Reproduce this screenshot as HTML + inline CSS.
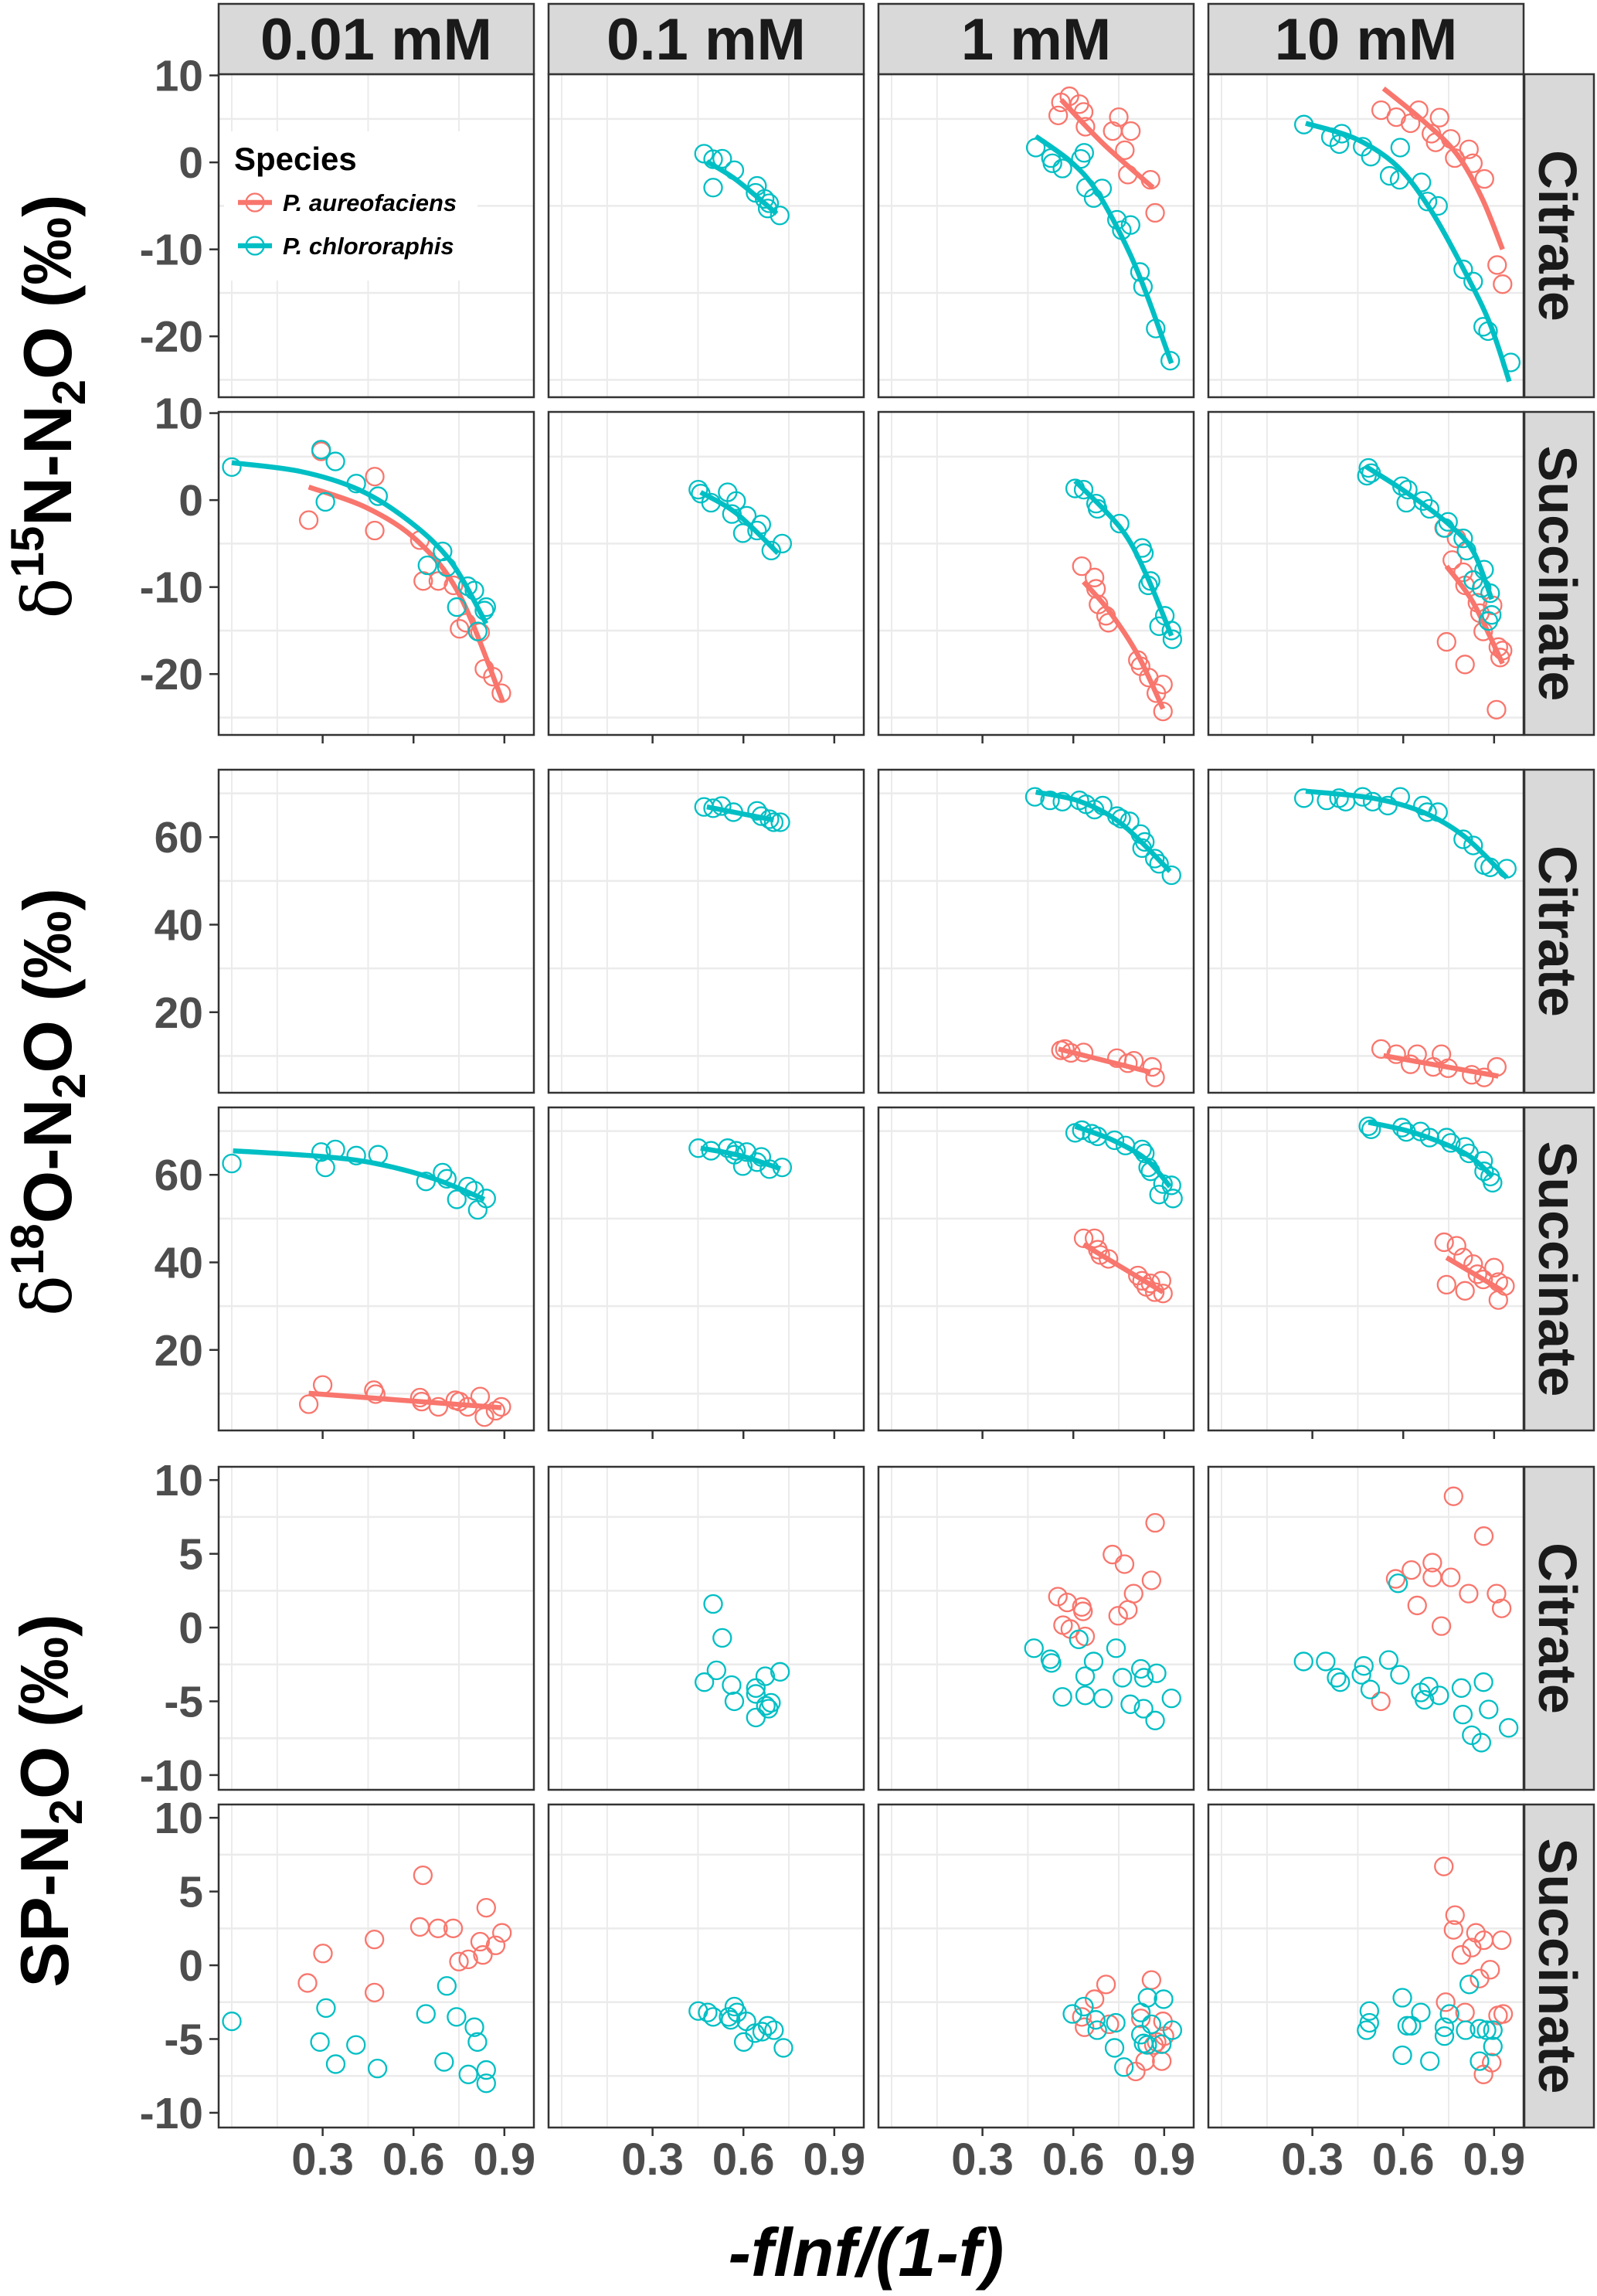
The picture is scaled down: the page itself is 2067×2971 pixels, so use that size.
<!DOCTYPE html>
<html><head><meta charset="utf-8"><title>Isotope facets</title>
<style>html,body{margin:0;padding:0;background:#fff}svg{display:block}text{font-family:"Liberation Sans",Arial,sans-serif}</style>
</head><body>
<svg id="chart" xmlns="http://www.w3.org/2000/svg" width="2067" height="2971" viewBox="0 0 2067 2971"></svg>
<script>
// ---------- data ----------
const concentrations = ['0.01 mM','0.1 mM','1 mM','10 mM'];
const substrates = ['Citrate','Succinate','Citrate','Succinate','Citrate','Succinate'];
const xTicks = [0.3,0.6,0.9];
const xTickLabels = ['0.3','0.6','0.9'];
const nTicks = [10,0,-10,-20];
const oTicks = [60,40,20];
const spTicks = [10,5,0,-5,-10];
const nMinor = [5,-5,-15,-25];
const oMinor = [70,50,30,10];
const spMinor = [7.5,2.5,-2.5,-7.5];
const xMinor = [0,0.15,0.45,0.75];

// d15N citrate
const n_cit_c1_chl = [[0.47,1.0],[0.50,0.36],[0.53,0.42],[0.57,-0.9],[0.50,-2.9],[0.645,-2.7],[0.64,-3.5],[0.67,-4.2],[0.685,-4.7],[0.68,-5.3],[0.72,-6.1]];
const n_cit_c1_chl_fit = [[0.479,0.1],[0.576,-2.0],[0.71,-5.9]];
const n_cit_c2_aur = [[0.587,7.6],[0.559,6.9],[0.62,6.7],[0.55,5.4],[0.634,5.8],[0.75,5.2],[0.64,4.1],[0.73,3.6],[0.79,3.6],[0.77,1.4],[0.78,-1.4],[0.855,-2.0],[0.87,-5.8]];
const n_cit_c2_aur_fit = [[0.56,7.2],[0.70,2.1],[0.863,-2.9]];
const n_cit_c2_chl = [[0.476,1.7],[0.526,0.5],[0.531,-0.1],[0.564,-0.7],[0.636,1.1],[0.625,0.4],[0.642,-2.9],[0.695,-3.0],[0.667,-4.1],[0.744,-6.6],[0.789,-7.2],[0.76,-7.8],[0.82,-12.6],[0.83,-14.3],[0.872,-19.1],[0.92,-22.8]];
const n_cit_c2_chl_fit = [[0.476,3.0],[0.592,0.07],[0.675,-3.2],[0.772,-9.4],[0.84,-15.0],[0.924,-23.1]];
const n_cit_c3_aur = [[0.527,6.0],[0.577,5.2],[0.651,6.0],[0.72,5.15],[0.624,4.5],[0.693,3.3],[0.757,2.7],[0.707,2.3],[0.817,1.5],[0.77,0.5],[0.83,-0.1],[0.868,-1.9],[0.91,-11.8],[0.928,-14.0]];
const n_cit_c3_aur_fit = [[0.535,8.5],[0.665,4.8],[0.776,1.0],[0.86,-4.1],[0.928,-10.0]];
const n_cit_c3_chl = [[0.272,4.35],[0.361,2.9],[0.397,3.3],[0.389,2.1],[0.466,1.8],[0.493,0.66],[0.59,1.7],[0.555,-1.55],[0.588,-2.0],[0.66,-2.3],[0.68,-4.5],[0.715,-5.0],[0.798,-12.3],[0.831,-13.7],[0.864,-18.9],[0.88,-19.4],[0.955,-23.0]];
const n_cit_c3_chl_fit = [[0.278,4.5],[0.444,2.7],[0.582,-0.5],[0.693,-5.6],[0.804,-12.6],[0.887,-18.6],[0.95,-25.2]];
// d15N succinate
const n_suc_c0_chl = [[0.0,3.8],[0.295,5.8],[0.342,4.45],[0.411,1.9],[0.309,-0.2],[0.483,0.45],[0.696,-5.9],[0.646,-7.5],[0.71,-7.7],[0.779,-9.9],[0.801,-10.4],[0.743,-12.3],[0.84,-12.3],[0.834,-12.7],[0.812,-15.1]];
const n_suc_c0_chl_fit = [[0.0,4.3],[0.226,3.3],[0.419,1.2],[0.585,-2.4],[0.724,-7.1],[0.84,-14.2]];
const n_suc_c0_aur = [[0.295,5.6],[0.254,-2.3],[0.472,2.7],[0.472,-3.5],[0.621,-4.6],[0.632,-9.3],[0.682,-9.3],[0.732,-9.8],[0.774,-14.1],[0.752,-14.8],[0.82,-15.2],[0.834,-19.4],[0.862,-20.3],[0.89,-22.2]];
const n_suc_c0_aur_fit = [[0.254,1.5],[0.447,-0.9],[0.613,-4.7],[0.752,-10.9],[0.895,-23.2]];
const n_suc_c1_chl = [[0.451,1.2],[0.459,0.75],[0.493,-0.3],[0.548,0.9],[0.576,-0.1],[0.562,-1.6],[0.611,-1.8],[0.659,-2.8],[0.598,-3.8],[0.645,-3.5],[0.692,-5.8],[0.728,-5.0]];
const n_suc_c1_chl_fit = [[0.459,0.9],[0.576,-1.5],[0.714,-6.1]];
const n_suc_c2_chl = [[0.606,1.34],[0.634,1.2],[0.675,-0.4],[0.68,-1.0],[0.753,-2.7],[0.827,-5.5],[0.833,-6.1],[0.855,-9.3],[0.847,-9.8],[0.883,-14.5],[0.902,-13.3],[0.924,-15.0],[0.927,-16.0]];
const n_suc_c2_chl_fit = [[0.606,2.2],[0.758,-3.3],[0.841,-8.6],[0.924,-15.6]];
const n_suc_c2_aur = [[0.628,-7.6],[0.67,-8.9],[0.675,-10.2],[0.683,-12.0],[0.708,-13.3],[0.716,-14.1],[0.813,-18.4],[0.822,-19.1],[0.849,-20.4],[0.896,-21.2],[0.874,-22.2],[0.896,-24.3]];
const n_suc_c2_aur_fit = [[0.634,-9.4],[0.717,-12.7],[0.813,-17.8],[0.896,-24.0]];
const n_suc_c3_chl = [[0.485,3.7],[0.48,2.8],[0.494,3.1],[0.596,1.6],[0.615,1.2],[0.61,-0.3],[0.665,-0.1],[0.687,-1.0],[0.748,-2.5],[0.737,-3.2],[0.798,-4.4],[0.809,-5.8],[0.867,-8.0],[0.831,-9.2],[0.859,-10.1],[0.887,-10.7],[0.892,-13.2],[0.881,-13.9]];
const n_suc_c3_chl_fit = [[0.477,3.85],[0.61,0.9],[0.748,-2.7],[0.831,-5.9],[0.892,-11.4]];
const n_suc_c3_aur = [[0.735,-3.2],[0.776,-4.4],[0.762,-6.9],[0.798,-8.3],[0.831,-9.2],[0.804,-9.8],[0.845,-11.8],[0.895,-12.1],[0.853,-13.0],[0.864,-15.1],[0.743,-16.3],[0.914,-16.9],[0.928,-17.3],[0.92,-18.1],[0.804,-18.9],[0.908,-24.1]];
const n_suc_c3_aur_fit = [[0.743,-7.6],[0.831,-11.8],[0.928,-18.8]];
// d18O citrate
const o_cit_c1_chl = [[0.47,66.9],[0.50,66.6],[0.528,67.1],[0.567,65.7],[0.645,66.0],[0.659,64.8],[0.686,64.1],[0.70,63.4],[0.722,63.4]];
const o_cit_c1_chl_fit = [[0.479,66.9],[0.70,63.9]];
const o_cit_c2_chl = [[0.473,69.2],[0.523,68.4],[0.564,68.1],[0.62,68.4],[0.642,67.5],[0.67,66.3],[0.697,67.2],[0.744,64.8],[0.786,63.6],[0.758,64.2],[0.822,60.7],[0.836,58.9],[0.827,57.5],[0.869,55.1],[0.883,53.9],[0.924,51.3]];
const o_cit_c2_chl_fit = [[0.476,70.3],[0.62,68.2],[0.758,63.1],[0.919,52.2]];
const o_cit_c2_aur = [[0.559,11.3],[0.572,11.6],[0.592,10.7],[0.634,10.8],[0.744,9.5],[0.78,8.35],[0.8,8.9],[0.86,7.5],[0.87,5.1]];
const o_cit_c2_aur_fit = [[0.551,11.6],[0.855,6.3]];
const o_cit_c3_chl = [[0.272,68.9],[0.347,68.4],[0.388,68.9],[0.41,68.1],[0.466,69.2],[0.499,68.1],[0.549,67.2],[0.59,69.2],[0.665,67.2],[0.679,65.7],[0.715,65.7],[0.798,59.5],[0.831,58.1],[0.867,53.6],[0.887,53.1],[0.942,52.8]];
const o_cit_c3_chl_fit = [[0.278,70.5],[0.499,68.9],[0.665,65.7],[0.803,60.1],[0.942,50.7]];
const o_cit_c3_aur = [[0.527,11.6],[0.577,10.4],[0.646,10.4],[0.726,10.4],[0.624,8.1],[0.699,7.5],[0.748,7.2],[0.826,5.7],[0.867,5.1],[0.909,7.5]];
const o_cit_c3_aur_fit = [[0.535,10.1],[0.914,5.4]];
// d18O succinate
const o_suc_c0_chl = [[0.0,62.6],[0.295,65.2],[0.342,65.8],[0.309,61.7],[0.411,64.4],[0.483,64.6],[0.641,58.5],[0.696,60.5],[0.71,59.1],[0.779,57.3],[0.801,56.4],[0.743,54.4],[0.84,54.6],[0.812,52.0]];
const o_suc_c0_chl_fit = [[0.004,65.5],[0.295,64.2],[0.475,62.6],[0.668,59.1],[0.834,54.4]];
const o_suc_c0_aur = [[0.3,12.0],[0.254,7.6],[0.469,10.8],[0.475,9.9],[0.621,9.1],[0.627,8.2],[0.682,7.0],[0.738,8.5],[0.752,8.2],[0.779,7.0],[0.82,9.35],[0.834,4.65],[0.871,6.1],[0.89,7.0]];
const o_suc_c0_aur_fit = [[0.254,10.1],[0.89,6.8]];
const o_suc_c1_chl = [[0.451,66.1],[0.493,65.5],[0.548,66.1],[0.576,65.5],[0.57,64.6],[0.611,65.2],[0.659,64.1],[0.598,62.0],[0.645,62.9],[0.686,61.3],[0.728,61.7]];
const o_suc_c1_chl_fit = [[0.459,66.1],[0.589,64.4],[0.722,61.4]];
const o_suc_c2_chl = [[0.606,69.6],[0.628,70.2],[0.661,69.4],[0.68,68.8],[0.736,67.9],[0.772,66.7],[0.827,65.8],[0.836,64.9],[0.847,61.7],[0.855,60.8],[0.896,57.9],[0.924,57.6],[0.883,55.5],[0.929,54.6]];
const o_suc_c2_chl_fit = [[0.606,71.1],[0.731,67.9],[0.841,63.5],[0.919,57.3]];
const o_suc_c2_aur = [[0.634,45.5],[0.67,45.5],[0.681,42.9],[0.689,41.7],[0.716,40.8],[0.813,37.0],[0.827,35.8],[0.841,34.4],[0.891,35.8],[0.869,33.2],[0.896,32.9],[0.855,35.2]];
const o_suc_c2_aur_fit = [[0.634,44.1],[0.896,33.2]];
const o_suc_c3_chl = [[0.485,71.1],[0.494,70.4],[0.596,70.8],[0.61,69.8],[0.657,69.9],[0.687,68.5],[0.743,68.5],[0.757,67.3],[0.804,66.4],[0.817,64.9],[0.864,63.2],[0.867,60.8],[0.887,59.6],[0.895,58.2]];
const o_suc_c3_chl_fit = [[0.485,72.0],[0.637,69.6],[0.804,64.9],[0.895,59.6]];
const o_suc_c3_aur = [[0.735,44.6],[0.776,43.8],[0.798,41.1],[0.831,39.6],[0.9,38.8],[0.845,37.3],[0.864,36.1],[0.743,34.9],[0.804,33.5],[0.914,35.5],[0.936,34.6],[0.914,31.4]];
const o_suc_c3_aur_fit = [[0.743,41.1],[0.928,33.5]];
// SP citrate
const sp_cit_c1_chl = [[0.5,1.6],[0.53,-0.7],[0.511,-2.9],[0.471,-3.7],[0.561,-3.9],[0.641,-4.1],[0.641,-4.5],[0.672,-3.3],[0.721,-3.0],[0.57,-5.0],[0.691,-5.1],[0.674,-5.3],[0.683,-5.5],[0.641,-6.1]];
const sp_cit_c2_aur = [[0.87,7.1],[0.729,4.95],[0.769,4.3],[0.858,3.2],[0.799,2.3],[0.549,2.1],[0.58,1.7],[0.628,1.4],[0.632,1.1],[0.78,1.2],[0.748,0.8],[0.566,0.16],[0.59,-0.1],[0.639,-0.6]];
const sp_cit_c2_chl = [[0.47,-1.4],[0.524,-2.15],[0.528,-2.4],[0.618,-0.8],[0.741,-1.4],[0.667,-2.3],[0.639,-3.3],[0.762,-3.4],[0.823,-2.8],[0.833,-3.4],[0.875,-3.1],[0.564,-4.7],[0.639,-4.6],[0.698,-4.8],[0.788,-5.2],[0.832,-5.5],[0.87,-6.3],[0.924,-4.8]];
const sp_cit_c3_aur = [[0.766,8.9],[0.866,6.2],[0.627,3.9],[0.696,4.4],[0.696,3.4],[0.575,3.3],[0.757,3.4],[0.816,2.3],[0.908,2.3],[0.646,1.5],[0.925,1.3],[0.726,0.1],[0.526,-5.0]];
const sp_cit_c3_chl = [[0.583,3.0],[0.271,-2.3],[0.344,-2.3],[0.38,-3.4],[0.392,-3.7],[0.462,-3.2],[0.47,-2.6],[0.491,-4.2],[0.552,-2.2],[0.589,-3.2],[0.658,-4.4],[0.67,-4.9],[0.684,-4.0],[0.719,-4.6],[0.792,-4.1],[0.865,-3.7],[0.797,-5.9],[0.882,-5.55],[0.826,-7.3],[0.858,-7.8],[0.948,-6.8]];
// SP succinate
const sp_suc_c0_aur = [[0.631,6.1],[0.84,3.9],[0.621,2.6],[0.681,2.5],[0.731,2.5],[0.471,1.75],[0.301,0.8],[0.82,1.6],[0.892,2.2],[0.871,1.35],[0.829,0.7],[0.781,0.4],[0.75,0.25],[0.25,-1.2],[0.471,-1.85]];
const sp_suc_c0_chl = [[0.0,-3.8],[0.311,-2.9],[0.71,-1.4],[0.641,-3.3],[0.742,-3.5],[0.801,-4.2],[0.811,-5.2],[0.291,-5.2],[0.41,-5.4],[0.343,-6.7],[0.481,-7.0],[0.701,-6.55],[0.781,-7.4],[0.84,-7.1],[0.84,-8.0]];
const sp_suc_c1_chl = [[0.451,-3.1],[0.482,-3.2],[0.5,-3.5],[0.551,-3.5],[0.558,-3.7],[0.57,-2.8],[0.579,-3.2],[0.61,-3.8],[0.638,-4.6],[0.662,-4.5],[0.68,-4.1],[0.701,-4.4],[0.601,-5.2],[0.732,-5.6]];
const sp_suc_c2_aur = [[0.858,-1.0],[0.708,-1.3],[0.67,-2.3],[0.628,-3.5],[0.719,-4.0],[0.823,-3.6],[0.896,-3.8],[0.637,-4.2],[0.875,-5.2],[0.866,-5.4],[0.901,-4.8],[0.837,-6.5],[0.892,-6.5],[0.806,-7.2]];
const sp_suc_c2_chl = [[0.597,-3.3],[0.635,-2.8],[0.674,-3.7],[0.679,-4.4],[0.823,-3.2],[0.845,-2.2],[0.898,-2.3],[0.858,-4.0],[0.823,-4.7],[0.832,-5.3],[0.844,-5.4],[0.892,-5.35],[0.927,-4.4],[0.736,-5.6],[0.767,-6.9],[0.74,-3.9]];
const sp_suc_c3_aur = [[0.734,6.7],[0.771,3.4],[0.766,2.4],[0.84,2.2],[0.826,1.2],[0.792,0.7],[0.866,1.7],[0.925,1.7],[0.887,-0.3],[0.852,-0.9],[0.74,-2.5],[0.804,-3.2],[0.913,-3.4],[0.93,-3.3],[0.892,-6.6],[0.865,-7.4]];
const sp_suc_c3_chl = [[0.488,-3.1],[0.488,-3.9],[0.479,-4.4],[0.597,-2.2],[0.613,-4.1],[0.627,-4.1],[0.658,-3.2],[0.736,-4.2],[0.736,-4.8],[0.753,-3.3],[0.818,-1.3],[0.806,-4.4],[0.852,-4.3],[0.875,-4.4],[0.896,-4.4],[0.896,-5.5],[0.852,-6.5],[0.597,-6.1],[0.688,-6.5]];

// series registry: [row, col, species, points, fit]
const series = [
 [0,1,'chl',n_cit_c1_chl,n_cit_c1_chl_fit],
 [0,2,'aur',n_cit_c2_aur,n_cit_c2_aur_fit],[0,2,'chl',n_cit_c2_chl,n_cit_c2_chl_fit],
 [0,3,'aur',n_cit_c3_aur,n_cit_c3_aur_fit],[0,3,'chl',n_cit_c3_chl,n_cit_c3_chl_fit],
 [1,0,'aur',n_suc_c0_aur,n_suc_c0_aur_fit],[1,0,'chl',n_suc_c0_chl,n_suc_c0_chl_fit],
 [1,1,'chl',n_suc_c1_chl,n_suc_c1_chl_fit],
 [1,2,'aur',n_suc_c2_aur,n_suc_c2_aur_fit],[1,2,'chl',n_suc_c2_chl,n_suc_c2_chl_fit],
 [1,3,'aur',n_suc_c3_aur,n_suc_c3_aur_fit],[1,3,'chl',n_suc_c3_chl,n_suc_c3_chl_fit],
 [2,1,'chl',o_cit_c1_chl,o_cit_c1_chl_fit],
 [2,2,'aur',o_cit_c2_aur,o_cit_c2_aur_fit],[2,2,'chl',o_cit_c2_chl,o_cit_c2_chl_fit],
 [2,3,'aur',o_cit_c3_aur,o_cit_c3_aur_fit],[2,3,'chl',o_cit_c3_chl,o_cit_c3_chl_fit],
 [3,0,'aur',o_suc_c0_aur,o_suc_c0_aur_fit],[3,0,'chl',o_suc_c0_chl,o_suc_c0_chl_fit],
 [3,1,'chl',o_suc_c1_chl,o_suc_c1_chl_fit],
 [3,2,'aur',o_suc_c2_aur,o_suc_c2_aur_fit],[3,2,'chl',o_suc_c2_chl,o_suc_c2_chl_fit],
 [3,3,'aur',o_suc_c3_aur,o_suc_c3_aur_fit],[3,3,'chl',o_suc_c3_chl,o_suc_c3_chl_fit],
 [4,1,'chl',sp_cit_c1_chl,null],
 [4,2,'aur',sp_cit_c2_aur,null],[4,2,'chl',sp_cit_c2_chl,null],
 [4,3,'aur',sp_cit_c3_aur,null],[4,3,'chl',sp_cit_c3_chl,null],
 [5,0,'aur',sp_suc_c0_aur,null],[5,0,'chl',sp_suc_c0_chl,null],
 [5,1,'chl',sp_suc_c1_chl,null],
 [5,2,'aur',sp_suc_c2_aur,null],[5,2,'chl',sp_suc_c2_chl,null],
 [5,3,'aur',sp_suc_c3_aur,null],[5,3,'chl',sp_suc_c3_chl,null]
];

// ---------- layout ----------
const NS = 'http://www.w3.org/2000/svg';
const svg = document.getElementById('chart');
const colors = {aur:'#F8766D', chl:'#00BFC4'};
const rowTop = [96,533,996,1433,1898,2335];
const rowH = 418;
const colLeft = [283,710,1137,1564];
const colW = 408;
const X0 = -0.0434, X1 = 0.9974;
const rowDomain = [[-27.0,10.14],[-27.0,10.14],[1.6,75.4],[1.6,75.4],[-11.0,10.9],[-11.0,10.9]];
const rowTicks = [nTicks,nTicks,oTicks,oTicks,spTicks,spTicks];
const rowMinor = [nMinor,nMinor,oMinor,oMinor,spMinor,spMinor];

function xS(c,v){return colLeft[c] + (v-X0)/(X1-X0)*colW;}
function yS(r,v){const d=rowDomain[r];return rowTop[r] + (d[1]-v)/(d[1]-d[0])*rowH;}
function el(tag,attrs,parent){const e=document.createElementNS(NS,tag);for(const k in attrs)e.setAttribute(k,attrs[k]);(parent||svg).appendChild(e);return e;}

// panels
for(let r=0;r<6;r++){
  for(let c=0;c<4;c++){
    const g=el('g',{});
    
    
    el('rect',{x:colLeft[c],y:rowTop[r],width:colW,height:rowH,fill:'#fff'},g);
    xMinor.forEach(v=>{const x=xS(c,v);const l=el('line',{x1:x,x2:x,y1:rowTop[r],y2:rowTop[r]+rowH,stroke:'#ebebeb','stroke-width':2},g);
      });
    rowMinor[r].forEach(v=>{const y=yS(r,v);const l=el('line',{x1:colLeft[c],x2:colLeft[c]+colW,y1:y,y2:y,stroke:'#ebebeb','stroke-width':2.5},g);
      });
  }
}

// legend
const leg=el('g',{});


el('rect',{x:290,y:170,width:328,height:193,fill:'#fff'},leg);
const lt=el('text',{x:303,y:220,'font-size':42,'font-weight':'bold',fill:'#000'},leg);lt.textContent='Species';

[['aur','P. aureofaciens',262],['chl','P. chlororaphis',318]].forEach(([s,name,y])=>{
  const ge=el('g',{},leg);
  
  
  el('line',{x1:308,x2:352,y1:y,y2:y,stroke:colors[s],'stroke-width':6.5},ge);
  el('circle',{cx:330,cy:y,r:11.5,fill:'none',stroke:colors[s],'stroke-width':2.3},ge);
  const t=el('text',{x:366,y:y+11,'font-size':31,'font-weight':'bold','font-style':'italic',fill:'#000'},ge);t.textContent=name;
});

// catmull-rom path
function smoothPath(pts){
  if(pts.length<3){return 'M'+pts.map(p=>p[0].toFixed(1)+','+p[1].toFixed(1)).join(' L');}
  let d='M'+pts[0][0].toFixed(1)+','+pts[0][1].toFixed(1);
  for(let i=0;i<pts.length-1;i++){
    const p0=pts[i-1]||pts[i],p1=pts[i],p2=pts[i+1],p3=pts[i+2]||p2;
    const c1=[p1[0]+(p2[0]-p0[0])/6,p1[1]+(p2[1]-p0[1])/6];
    const c2=[p2[0]-(p3[0]-p1[0])/6,p2[1]-(p3[1]-p1[1])/6];
    d+=' C'+c1.join(',')+' '+c2.join(',')+' '+p2[0].toFixed(1)+','+p2[1].toFixed(1);
  }
  return d;
}

// series marks
series.forEach(([r,c,s,pts,fit])=>{
  const g=el('g',{});
  
  
  pts.forEach(p=>{
    const ci=el('circle',{cx:xS(c,p[0]),cy:yS(r,p[1]),r:11.5,fill:'none',stroke:colors[s],'stroke-width':2.3},g);
    
    
  });
  if(fit){
    const path=el('path',{d:smoothPath(fit.map(p=>[xS(c,p[0]),yS(r,p[1])])),fill:'none',stroke:colors[s],'stroke-width':6.5,'stroke-linecap':'butt'},g);
    
    
  }
});

// panel borders + strips + ticks
for(let r=0;r<6;r++){
  for(let c=0;c<4;c++){
    const b=el('rect',{x:colLeft[c],y:rowTop[r],width:colW,height:rowH,fill:'none',stroke:'#333','stroke-width':2.5});
    
    
  }
  // right strip
  const sg=el('g',{});
  
  
  el('rect',{x:1973,y:rowTop[r],width:90,height:rowH,fill:'#d9d9d9',stroke:'#333','stroke-width':2.5},sg);
  const st=el('text',{x:0,y:0,'font-size':70,'font-weight':'bold',fill:'#1a1a1a','text-anchor':'middle',transform:'translate(1992,'+(rowTop[r]+rowH/2)+') rotate(90)'},sg);
  st.textContent=substrates[r];
  // y ticks
  rowTicks[r].forEach(v=>{
    const y=yS(r,v);
    const tk=el('line',{x1:271,x2:283,y1:y,y2:y,stroke:'#333','stroke-width':2.5});
    
    
    const tl=el('text',{x:263,y:y+20,'font-size':57,'font-weight':'bold',fill:'#4d4d4d','text-anchor':'end'});
    tl.textContent=String(v);
    
    
  });
  // x ticks under odd rows
  if(r%2===1){
    for(let c=0;c<4;c++){
      xTicks.forEach((v,i)=>{
        const x=xS(c,v);
        const tk=el('line',{x1:x,x2:x,y1:rowTop[r]+rowH,y2:rowTop[r]+rowH+11,stroke:'#333','stroke-width':2.5});
        
        
        if(r===5){
          const tl=el('text',{x:x,y:2814,'font-size':58,'font-weight':'bold',fill:'#4d4d4d','text-anchor':'middle'});
          tl.textContent=xTickLabels[i];
          
          
        }
      });
    }
  }
}
// top strips
for(let c=0;c<4;c++){
  const sg=el('g',{});
  
  
  el('rect',{x:colLeft[c],y:5,width:colW,height:91,fill:'#d9d9d9',stroke:'#333','stroke-width':2.5},sg);
  const t=el('text',{x:colLeft[c]+colW/2,y:77,'font-size':76,'font-weight':'bold',fill:'#1a1a1a','text-anchor':'middle'},sg);
  t.textContent=concentrations[c];
}
</script>
<svg style="position:absolute;left:0;top:0" width="2067" height="2971">
  <text transform="translate(92,526) rotate(-90)" text-anchor="middle" font-size="88" font-weight="bold" fill="#000" style="font-family:'Liberation Sans',sans-serif"><tspan font-weight="normal" font-family="DejaVu Serif, serif">δ</tspan><tspan font-size="60" dy="-36">15</tspan><tspan dy="36">N-N</tspan><tspan font-size="60" dy="18">2</tspan><tspan dy="-18">O (‰)</tspan></text>
  <text transform="translate(92,1426) rotate(-90)" text-anchor="middle" font-size="88" font-weight="bold" fill="#000" style="font-family:'Liberation Sans',sans-serif"><tspan font-weight="normal" font-family="DejaVu Serif, serif">δ</tspan><tspan font-size="60" dy="-36">18</tspan><tspan dy="36">O-N</tspan><tspan font-size="60" dy="18">2</tspan><tspan dy="-18">O (‰)</tspan></text>
  <text transform="translate(88,2330) rotate(-90)" text-anchor="middle" font-size="88" font-weight="bold" fill="#000" style="font-family:'Liberation Sans',sans-serif">SP-N<tspan font-size="60" dy="18">2</tspan><tspan dy="-18">O (‰)</tspan></text>
  <text x="1121" y="2945" text-anchor="middle" font-size="88" font-weight="bold" font-style="italic" fill="#000" style="font-family:'Liberation Sans',sans-serif">-flnf/(1-f)</text>
</svg>
</body></html>
